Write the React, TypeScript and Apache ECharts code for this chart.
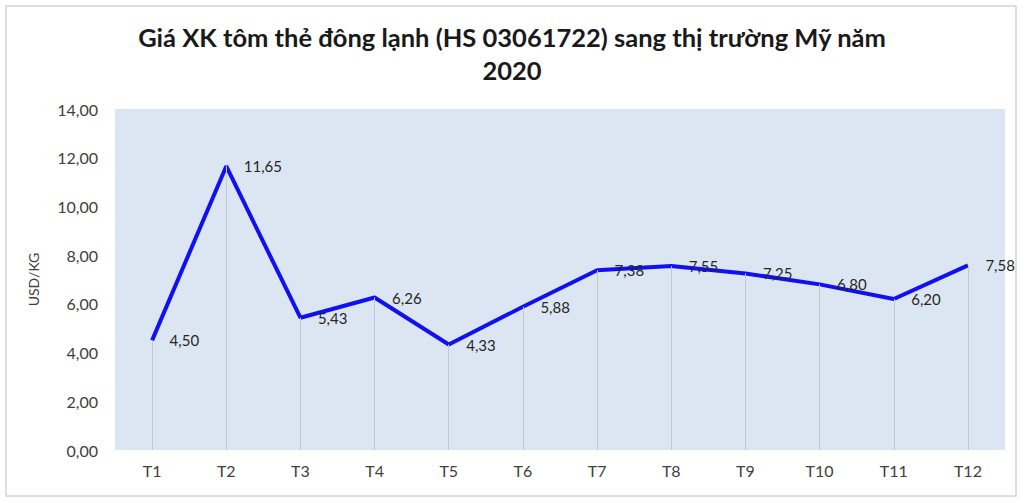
import React, { useEffect, useRef } from 'react';
import * as echarts from 'echarts';

const months = ['T1', 'T2', 'T3', 'T4', 'T5', 'T6', 'T7', 'T8', 'T9', 'T10', 'T11', 'T12'];
const prices = [4.5, 11.65, 5.43, 6.26, 4.33, 5.88, 7.38, 7.55, 7.25, 6.8, 6.2, 7.58];

const fmt = (v: number) => v.toFixed(2).replace('.', ',');

export default function App() {
    const chartRef = useRef<HTMLDivElement>(null);

    useEffect(() => {
        const myChart = echarts.init(chartRef.current, null, { renderer: 'svg' });

        myChart.setOption({
            animation: false,
            backgroundColor: '#ffffff',
            textStyle: { fontFamily: 'Lato' },
            title: {
                text: 'Giá XK tôm thẻ đông lạnh (HS 03061722) sang thị trường Mỹ năm\n2020',
                left: 'center',
                top: 15,
                textStyle: {
                    fontFamily: 'Lato',
                    fontWeight: 'bold',
                    fontSize: 25.5,
                    lineHeight: 33,
                    color: '#1a1a1a',
                },
            },
            graphic: [
                {
                    type: 'rect',
                    shape: { x: 6, y: 6, width: 1010, height: 490 },
                    style: { fill: 'none', stroke: '#d4d4d4', lineWidth: 1.5 },
                    silent: true,
                },
            ],
            grid: {
                left: 115,
                right: 19,
                top: 109,
                bottom: 53,
                show: true,
                backgroundColor: '#dce6f2',
                borderWidth: 0,
            },
            xAxis: {
                type: 'category',
                data: months,
                boundaryGap: true,
                axisLine: { show: false },
                axisTick: { show: false },
                axisLabel: { color: '#404040', fontSize: 16, margin: 12 },
            },
            yAxis: {
                type: 'value',
                min: 0,
                max: 14,
                interval: 2,
                name: 'USD/KG',
                nameLocation: 'middle',
                nameGap: 75,
                nameTextStyle: { color: '#404040', fontSize: 14 },
                axisLine: { show: false },
                axisTick: { show: false },
                splitLine: { show: false },
                axisLabel: {
                    color: '#404040',
                    fontSize: 16,
                    margin: 17,
                    formatter: (v: number) => fmt(v),
                },
            },
            series: [
                {
                    name: 'Giá',
                    type: 'line',
                    data: prices,
                    symbol: 'circle',
                    symbolSize: 1,
                    showSymbol: true,
                    itemStyle: { color: 'rgba(0,0,0,0)' },
                    lineStyle: { color: '#1010f0', width: 4 },
                    label: {
                        show: true,
                        position: 'right',
                        distance: 17,
                        color: '#262626',
                        fontSize: 15,
                        formatter: (p: any) => fmt(p.value),
                    },
                    markLine: {
                        silent: true,
                        symbol: 'none',
                        label: { show: false },
                        lineStyle: { color: '#c3c9d1', width: 1, type: 'solid' },
                        data: prices.map((v, i) => [
                            { coord: [months[i], 0] },
                            { coord: [months[i], v] },
                        ]),
                    },
                    z: 3,
                },
            ],
        });

        return () => {
            myChart.dispose();
        };
    }, []);

    return (
        <div
            ref={chartRef}
            style={{ position: 'absolute', left: 0, top: 0, width: '1024px', height: '503px' }}
        />
    );
}
